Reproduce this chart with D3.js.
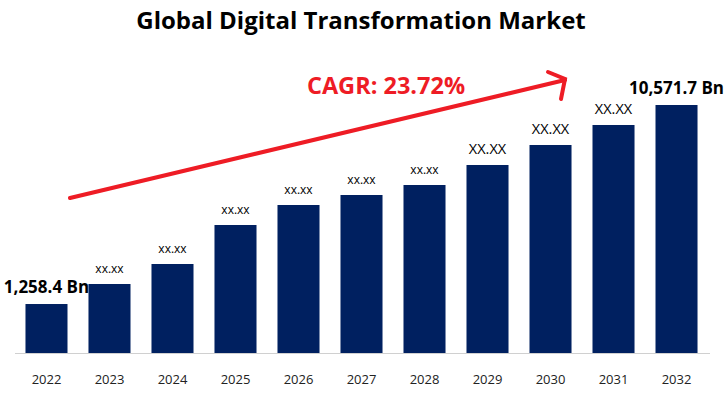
<!DOCTYPE html>
<html>
<head>
<meta charset="utf-8">
<script src="https://cdn.jsdelivr.net/npm/d3@7"></script>
<style>
  body { margin: 0; background: #fff; }
  text { font-family: "Open Sans", "Liberation Sans", sans-serif; }
</style>
</head>
<body>
<div id="grafica"></div>
<script>
// datos
const years = ["2022", "2023", "2024", "2025", "2026", "2027", "2028", "2029", "2030", "2031", "2032"];
const values = [1258.4, 2195, 3131, 4956, 5892, 6360, 6828, 7764, 8700, 9636, 10571.7];
const labels = ["1,258.4 Bn", "xx.xx", "xx.xx", "xx.xx", "xx.xx", "xx.xx", "xx.xx", "XX.XX", "XX.XX", "XX.XX", "10,571.7 Bn"];
const title = "Global Digital Transformation Market";
const cagr = "CAGR: 23.72%";

const width = 726;
const height = 395;
const baseY = 353;
const barColor = "#002060";
const red = "#ee1c25";

const svg = d3.select("#grafica").append("svg")
  .attr("width", width)
  .attr("height", height);

// escalas
const xScale = d3.scaleBand()
  .domain(years)
  .range([4.5, 718.5])
  .padding(0.333);

// el eje no arranca en cero en la imagen original
const yScale = d3.scaleLinear()
  .domain([-1034, 10571.7])
  .range([baseY, 105]);

// titulo
svg.append("text")
  .attr("x", 361)
  .attr("y", 29)
  .attr("text-anchor", "middle")
  .style("font-size", "24px")
  .style("font-weight", "bold")
  .attr("fill", "#000")
  .text(title);

// barras
svg.append("g").selectAll("rect")
  .data(years)
  .enter().append("rect")
  .attr("x", d => xScale(d))
  .attr("width", xScale.bandwidth())
  .attr("y", (d, i) => yScale(values[i]))
  .attr("height", (d, i) => baseY - yScale(values[i]))
  .attr("fill", barColor);

// linea base
svg.append("line")
  .attr("x1", 15).attr("x2", 710)
  .attr("y1", baseY + 0.5).attr("y2", baseY + 0.5)
  .attr("stroke", "#d0d0d0")
  .attr("stroke-width", 1);

// eje x
const xAxis = d3.axisBottom(xScale).tickSize(0).tickPadding(0);
const gx = svg.append("g")
  .attr("transform", `translate(0, ${baseY + 27})`)
  .call(xAxis);
gx.select(".domain").remove();
gx.selectAll("text")
  .style("font-size", "13px")
  .style("font-family", "'Open Sans', sans-serif")
  .attr("fill", "#222")
  .attr("dy", "0.32em");

// etiquetas de las barras
svg.append("g").selectAll("text")
  .data(years)
  .enter().append("text")
  .attr("x", d => xScale(d) + xScale.bandwidth() / 2)
  .attr("y", (d, i) => yScale(values[i]) - 11)
  .attr("text-anchor", "middle")
  .attr("fill", "#000")
  .style("font-weight", (d, i) => labels[i].indexOf("Bn") > -1 ? "bold" : "normal")
  .style("font-size", (d, i) => {
    const l = labels[i];
    if (l.indexOf("Bn") > -1) return "17px";
    if (l === "XX.XX") return "14.5px";
    return "12px";
  })
  .text((d, i) => labels[i]);

// flecha CAGR
const arrow = svg.append("g")
  .attr("stroke", red)
  .attr("stroke-width", 4)
  .attr("stroke-linecap", "round")
  .attr("fill", "none");

arrow.append("line")
  .attr("x1", 70).attr("y1", 198)
  .attr("x2", 565).attr("y2", 80);
arrow.append("path")
  .attr("d", "M548,72 L565,79 L561,99");

svg.append("text")
  .attr("x", 386)
  .attr("y", 94)
  .attr("text-anchor", "middle")
  .attr("fill", red)
  .style("font-size", "23.5px")
  .style("font-weight", "bold")
  .text(cagr);
</script>
</body>
</html>
